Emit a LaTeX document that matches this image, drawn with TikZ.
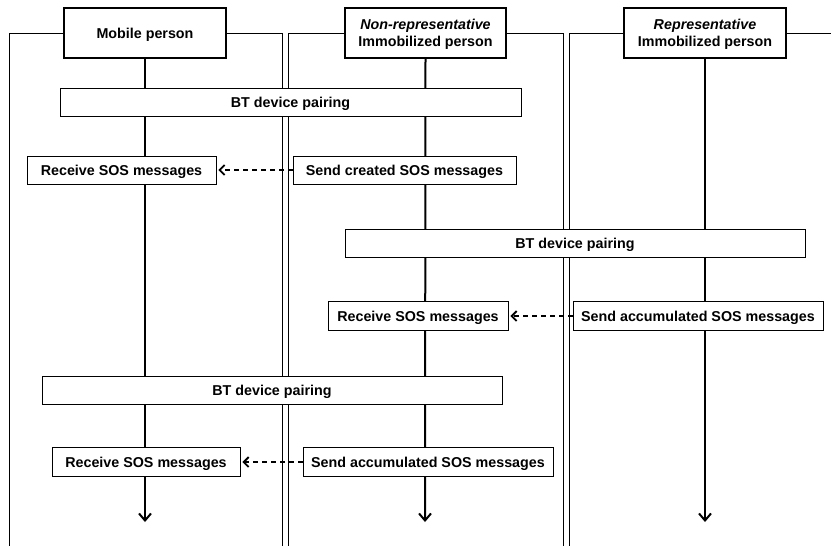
\documentclass[tikz,border=0pt]{standalone}
\usepackage{fontspec}
\setmainfont{Liberation Sans}
\usetikzlibrary{arrows.meta,backgrounds}

\begin{document}
\begin{tikzpicture}[x=1pt,y=-1pt,
  every node/.style={inner sep=0pt, align=center},
  lbl/.style={font=\bfseries\fontsize{14.3}{16.5}\selectfont},
  head/.style={lbl, draw, fill=white, line width=2.4pt, minimum width=162pt, minimum height=50pt},
  stepbox/.style={lbl, draw, fill=white, line width=0.9pt, minimum height=28pt,
                  text height=10.2pt, text depth=0pt},
  lane/.style={line width=0.9pt},
  life/.style={line width=2pt, -{Straight Barb[length=7pt,width=12pt,line width=2pt]}},
  msg/.style={line width=1.8pt, dash pattern=on 5pt off 4pt,
              -{Straight Barb[length=5pt,width=10pt,line width=1.8pt]}, shorten >=2pt}]
\useasboundingbox (0,0) rectangle (831,546);

% participants
\node[head, text height=10.2pt, text depth=0pt] (h1) at (145,33) {Mobile person};
\node[head, minimum width=161pt, text depth=0pt] (h2) at (425.5,33) {\textit{Non-representative}\\Immobilized person};
\node[head, text depth=0pt] (h3) at (705,33) {\textit{Representative}\\Immobilized person};

% ends of the lifelines
\coordinate (e1) at (145,522);
\coordinate (e2) at (425,522);
\coordinate (e3) at (705,522);

% steps
\node[stepbox, minimum width=461pt] (bt1) at (290.5,102) {BT device pairing};
\node[stepbox, minimum width=189pt] (r1) at (121.5,170) {Receive SOS messages};
\node[stepbox, minimum width=223pt] (s1) at (404.5,170) {Send created SOS messages};

\node[stepbox, minimum width=460pt] (bt2) at (575,243) {BT device pairing};
\node[stepbox, minimum width=180pt, minimum height=29pt] (r2) at (418,316) {Receive SOS messages};
\node[stepbox, minimum width=250pt, minimum height=29pt] (s2) at (698,316) {Send accumulated SOS messages};

\node[stepbox, minimum width=460pt] (bt3) at (272,390) {BT device pairing};
\node[stepbox, minimum width=188pt, minimum height=29pt] (r3) at (146,462) {Receive SOS messages};
\node[stepbox, minimum width=250pt, minimum height=29pt] (s3) at (428,462) {Send accumulated SOS messages};

% messages
\draw[msg] (s1.west) -- (r1.east);
\draw[msg] (s2.west) -- (r2.east);
\draw[msg] (s3.west) -- (r3.east);

\begin{scope}[on background layer]
  % lane frames
  \draw[lane] (9,546) -- (9,33) -- (h1.west);
  \draw[lane] (h1.east) -- (282,33) -- (282,546);
  \draw[lane] (288,546) -- (288,33) -- (h2.west);
  \draw[lane] (h2.east) -- (563,33) -- (563,546);
  \draw[lane] (569,546) -- (569,33) -- (h3.west);
  \draw[lane] (h3.east) -- (831,33);
  % lifelines
  \draw[life] (h1.south) -- (e1);
  \draw[life] (h2.south) -- (e2);
  \draw[life] (h3.south) -- (e3);
\end{scope}
\end{tikzpicture}
\end{document}
